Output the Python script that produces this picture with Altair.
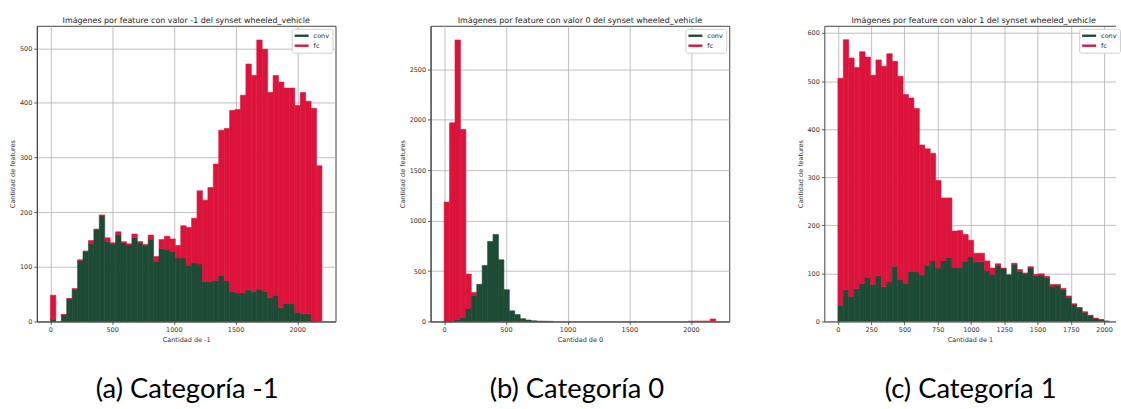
import altair as alt
import numpy as np
import pandas as pd

SERIES = ["conv", "fc"]
COLORS = ["#1d4b35", "#dc143c"]
Y_TITLE = "Cantidad de features"
FRAME = "#444"

# Histogram counts per bin (50 equal-width bins each); conv at the bottom, fc stacked on top.
# Valor -1
RANGE_NEG = (0, 2200)
CONV_NEG = [4, 0, 12, 41, 59, 111, 128, 142, 168, 193,
            147, 142, 159, 144, 140, 153, 145, 139, 150, 110,
            133, 132, 128, 116, 116, 103, 108, 105, 73, 73,
            75, 84, 74, 55, 52, 52, 58, 55, 59, 55,
            43, 48, 25, 33, 32, 17, 14, 14, 1, 0]
FC_NEG = [44, 0, 1, 1, 1, 2, 1, 6, 1, 2,
          6, 2, 5, 2, 2, 7, 1, 2, 8, 9,
          17, 24, 23, 23, 59, 69, 81, 134, 149, 172,
          213, 266, 279, 331, 336, 362, 413, 395, 456, 443,
          376, 402, 413, 394, 395, 378, 405, 389, 389, 285]

# Valor 0
RANGE_ZERO = (0, 2200)
CONV_ZERO = [2, 8, 18, 38, 128, 258, 368, 555, 792, 861,
             611, 315, 105, 68, 28, 14, 7, 3, 2, 1,
             0, 0, 0, 0, 0, 0, 0, 0, 0, 0,
             0, 0, 0, 0, 0, 0, 0, 0, 0, 0,
             0, 0, 0, 0, 0, 0, 0, 0, 0, 0]
FC_ZERO = [1181, 1960, 2771, 1864, 342, 28, 0, 0, 0, 0,
           0, 0, 0, 0, 0, 0, 0, 0, 0, 0,
           0, 0, 0, 0, 0, 0, 0, 0, 0, 0,
           0, 0, 0, 0, 0, 0, 0, 0, 0, 0,
           0, 0, 0, 0, 0, 3, 4, 4, 5, 25]

# Valor 1
RANGE_ONE = (0, 2040)
CONV_ONE = [33, 66, 52, 68, 79, 92, 77, 95, 72, 82,
            115, 88, 79, 104, 103, 97, 117, 126, 111, 126,
            133, 112, 113, 125, 134, 124, 124, 106, 98, 117,
            110, 97, 119, 104, 99, 111, 95, 96, 91, 73,
            75, 66, 50, 35, 28, 19, 12, 6, 3, 1]
FC_ONE = [473, 520, 496, 460, 482, 458, 435, 449, 459, 475,
          426, 422, 393, 361, 340, 270, 242, 224, 182, 131,
          124, 76, 76, 56, 35, 18, 18, 20, 13, 3,
          1, 0, 2, 4, 2, 3, 3, 3, 3, 4,
          2, 3, 3, 2, 1, 1, 1, 1, 1, 0]

H = 297

PANELS = [
    dict(rng=RANGE_NEG, conv=CONV_NEG, fc=FC_NEG, width=300, xdom=[-110, 2310], ydom=[0, 541],
         xticks=[0, 500, 1000, 1500, 2000], yticks=[0, 100, 200, 300, 400, 500],
         title="Imágenes por feature con valor -1 del synset wheeled_vehicle",
         xtitle="Cantidad de -1", caption="(a) Categoría -1", cap_x=151, cut=False),
    dict(rng=RANGE_ZERO, conv=CONV_ZERO, fc=FC_ZERO, width=300, xdom=[-110, 2310], ydom=[0, 2930],
         xticks=[0, 500, 1000, 1500, 2000], yticks=[0, 500, 1000, 1500, 2000, 2500],
         title="Imágenes por feature con valor 0 del synset wheeled_vehicle",
         xtitle="Cantidad de 0", caption="(b) Categoría 0", cap_x=147, cut=False),
    # the last panel runs off the right edge of the page: only its left part is kept,
    # without the right-hand frame line
    dict(rng=RANGE_ONE, conv=CONV_ONE, fc=FC_ONE, width=292.5, xdom=[-102, 2086], ydom=[0, 615],
         xticks=[0, 250, 500, 750, 1000, 1250, 1500, 1750, 2000],
         yticks=[0, 100, 200, 300, 400, 500, 600],
         title="Imágenes por feature con valor 1 del synset wheeled_vehicle",
         xtitle="Cantidad de 1", caption="(c) Categoría 1", cap_x=147, cut=True,
         legend_x=256, title_x=150),
]


def stacked_frame(rng, conv, fc):
    n = len(conv)
    edges = np.linspace(rng[0], rng[1], n + 1)
    rows = []
    for i in range(n):
        base = 0
        for name, vals in zip(SERIES, (conv, fc)):
            rows.append({"inicio": edges[i], "fin": edges[i + 1], "serie": name,
                         "cantidad": vals[i], "y0": base, "y1": base + vals[i]})
            base += vals[i]
    return pd.DataFrame(rows)


def panel(p):
    W = p["width"]
    df = stacked_frame(p["rng"], p["conv"], p["fc"])
    df = df[df["cantidad"] > 0]
    palette = alt.Scale(domain=SERIES, range=COLORS)
    xscale = alt.Scale(domain=p["xdom"], nice=False, zero=False)
    if p["cut"]:
        legend = alt.Legend(title=None, orient="none", legendX=p["legend_x"], legendY=3)
    else:
        legend = alt.Legend(title=None, orient="top-right")
    bars = alt.Chart(df).mark_bar(strokeWidth=0.6, clip=True).encode(
        x=alt.X("inicio:Q", scale=xscale,
                axis=alt.Axis(values=p["xticks"], title=p["xtitle"], format="d")),
        x2="fin:Q",
        y=alt.Y("y1:Q", scale=alt.Scale(domain=p["ydom"], nice=False),
                axis=alt.Axis(values=p["yticks"], title=Y_TITLE, format="d")),
        y2="y0:Q",
        color=alt.Color("serie:N", scale=palette, legend=legend),
        stroke=alt.Stroke("serie:N", scale=palette, legend=None),
    )
    title = alt.Chart(pd.DataFrame({"t": [p["title"]]})).mark_text(
        font="DejaVu Sans", fontSize=8, color="#222", align="center", baseline="alphabetic"
    ).encode(x=alt.value(p.get("title_x", W / 2)), y=alt.value(-3), text="t:N")
    caption = alt.Chart(pd.DataFrame({"t": [p["caption"]]})).mark_text(
        font="Lato", fontSize=27.5, color="#000", align="center", baseline="alphabetic"
    ).encode(x=alt.value(p["cap_x"]), y=alt.value(H + 77), text="t:N")
    layers = [bars, title, caption]
    if p["cut"]:
        # top edge of the frame drawn as a bare axis line
        top_edge = alt.Chart(df).mark_point(opacity=0).encode(
            x=alt.X("inicio:Q", scale=xscale,
                    axis=alt.Axis(orient="top", labels=False, ticks=False, grid=False,
                                  domain=True, title=None)),
        )
        layers.append(top_edge)
        return (alt.layer(*layers).resolve_axis(x="independent")
                .properties(width=W, height=H, view=alt.ViewBackground(stroke=None)))
    return alt.layer(*layers).properties(width=W, height=H)


chart = (
    alt.hconcat(*[panel(p) for p in PANELS], spacing=95.5, bounds="flush")
    .resolve_scale(x="independent", y="independent", color="independent", stroke="independent")
    .resolve_legend(color="independent")
    .properties(padding={"left": 9, "top": 15, "right": 0, "bottom": 0}, background="white")
    .configure_view(stroke=FRAME, strokeWidth=1)
    .configure_axis(
        labelFont="DejaVu Sans", labelFontSize=6.5, labelColor="#333",
        titleFont="DejaVu Sans", titleFontSize=6.5, titleFontWeight="normal", titleColor="#333",
        tickColor="#333", tickSize=3, tickWidth=0.8, labelPadding=2, titlePadding=4,
        domain=True, domainColor=FRAME, domainWidth=1,
        grid=True, gridColor="#b0b0b0", gridWidth=0.8, zindex=1,
    )
    .configure_legend(
        labelFont="DejaVu Sans", labelFontSize=6.5, labelColor="#222",
        fillColor="white", strokeColor="#d0d0d0", cornerRadius=2, padding=3,
        offset=3, rowPadding=2, labelOffset=8, symbolOffset=3,
        symbolType="M-1.75,-0.3H1.75V0.3H-1.75Z", symbolSize=64, symbolStrokeWidth=0,
    )
)

chart.save("out.html", embed_options={"renderer": "svg", "actions": False})
